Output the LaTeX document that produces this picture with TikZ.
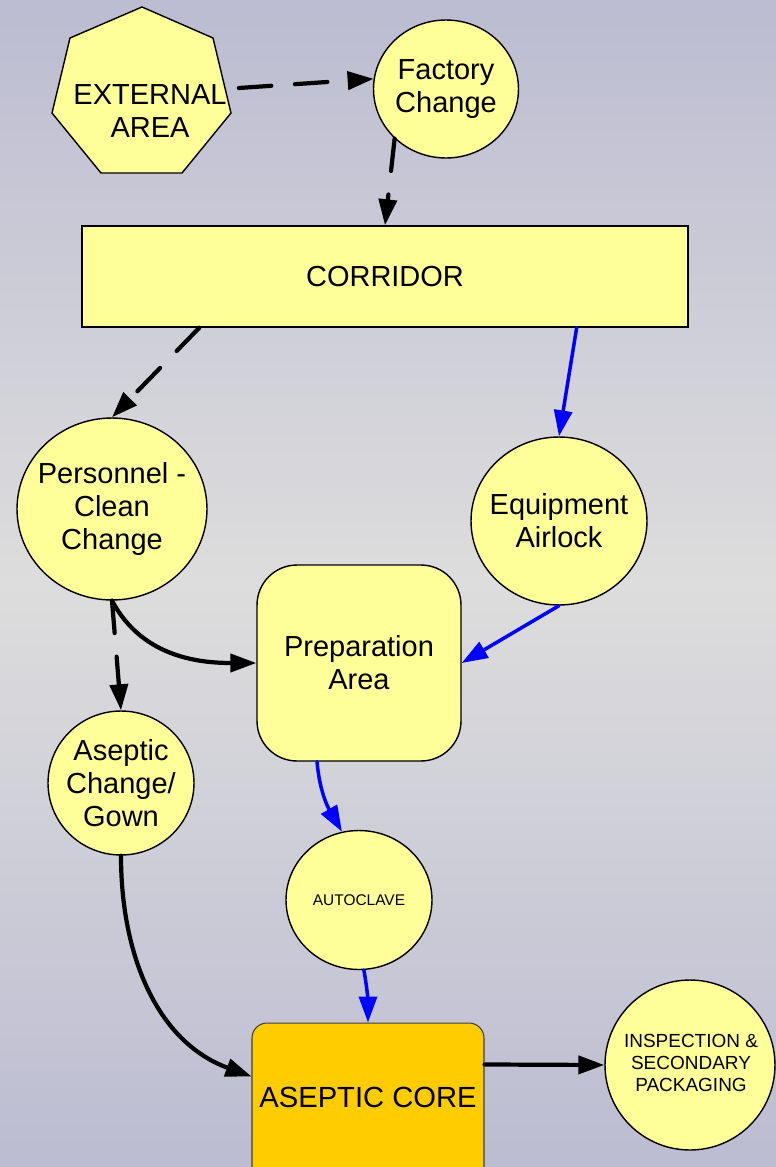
\documentclass[tikz,border=0pt]{standalone}
\usepackage{fontspec}
\setmainfont{Liberation Sans}
\usetikzlibrary{shapes.geometric,arrows.meta,calc}

\definecolor{bgedge}{HTML}{BCBCD2}
\definecolor{bgmid}{HTML}{DDDDDD}
\definecolor{roomfill}{HTML}{FFFF99}
\definecolor{corefill}{HTML}{FFCC00}
\definecolor{flowblue}{HTML}{0000FF}

\begin{document}
\begin{tikzpicture}[x=0.02cm, y=-0.02cm,
  roomline/.style={draw=black, line width=0.8pt, fill=roomfill},
  room/.style={roomline, inner sep=0pt},
  roundroom/.style={room, ellipse},
  roomtext/.style={inner sep=0pt, align=center, font=\fontsize{16.5}{18.7}\selectfont},
  flowtip/.style={-{Triangle[length=0.52cm,width=0.36cm]}},
  people/.style={draw=black, line width=2.4pt, line cap=round, flowtip},
  peopledash/.style={people, dash pattern=on 18.5pt off 13.5pt},
  material/.style={draw=flowblue, line width=2pt, line cap=round, flowtip},
]
% page and background
\useasboundingbox (0,0) rectangle (776,1167);
\clip (0,0) rectangle (776,1167);
\shade[top color=bgedge, bottom color=bgmid] (0cm,0cm) rectangle (15.52cm,-11.67cm);
\shade[top color=bgmid, bottom color=bgedge] (0cm,-11.67cm) rectangle (15.52cm,-23.34cm);

% external area: a slightly wide heptagon
\draw[roomline] (142,7) -- (213,38) -- (231,113) -- (182,173) -- (101,173)
  -- (52,113) -- (70,38) -- cycle;
\node[roomtext] (ext) at (150,111) {EXTERNAL\\AREA};

% rooms
\node[roundroom, minimum width=2.9cm, minimum height=2.76cm] (fact) at (446,89) {};
\node[roomtext] (facttext) at (fact) {Factory\\Change};

\node[room, rectangle, minimum width=12.12cm, minimum height=2.02cm]
  (corr) at (385,276.5) {};
\node[roomtext] (corrtext) at (corr) {CORRIDOR};

\node[roundroom, minimum width=3.8cm, minimum height=3.64cm] (pers) at (112,509) {};
\node[roomtext] (perstext) at (pers) {Personnel -\\Clean\\Change};

\node[roundroom, minimum width=3.52cm, minimum height=3.36cm] (equip) at (559,521) {};
\node[roomtext] (equiptext) at (equip) {Equipment\\Airlock};

\node[room, rectangle, rounded corners=0.8cm, minimum width=4.08cm, minimum height=3.92cm]
  (prep) at (359,663) {};
\node[roomtext] (preptext) at (prep) {Preparation\\Area};

\node[roundroom, minimum width=2.92cm, minimum height=2.88cm] (asc) at (121,783) {};
\node[roomtext] (asctext) at (asc) {Aseptic\\Change/\\Gown};

\node[roundroom, minimum width=2.92cm, minimum height=2.78cm] (auto) at (359,900) {};
\node[roomtext, font=\fontsize{8.8}{10.5}\selectfont] (autotext) at (auto) {AUTOCLAVE};

\node[draw=black!75, line width=0.6pt, fill=corefill, rectangle, rounded corners=0.3cm,
  minimum width=4.64cm, minimum height=3.4cm] (core) at (368,1108) {};
\node[roomtext, font=\fontsize{16.6}{19}\selectfont] (coretext) at (368,1097) {ASEPTIC CORE};

\node[roundroom, minimum width=3.4cm, minimum height=3.4cm] (insp) at (690,1065) {};
\node[roomtext, font=\fontsize{10.8}{12.5}\selectfont] (insptext) at (691,1063)
  {INSPECTION \&\\SECONDARY\\PACKAGING};

% personnel flow
\draw[peopledash] ([shift={(12,-23)}]ext.east) -- (fact.172);
\draw[peopledash] (fact.224) -- (corr.north);
\draw[peopledash] ([xshift=2.36cm]corr.south west) -- (pers.north);
\draw[peopledash] (pers.south) -- (asc.north);
\draw[people] (pers.south) to[out=-62, in=180] (prep.west);
\draw[people] (asc.south) to[out=-90, in=160] ([yshift=-1.08cm]core.north west);
\draw[people] ([yshift=-0.84cm]core.north east) -- (insp.west);

% material flow
\draw[material] ([xshift=-2.24cm]corr.south east) -- (equip.north);
\draw[material] (equip.south) -- (prep.east);
\draw[material] ([xshift=-0.84cm]prep.south) to[out=-85, in=120] (auto.104);
\draw[material] (auto.-86) to[out=-80, in=90] (core.north);
\end{tikzpicture}
\end{document}
